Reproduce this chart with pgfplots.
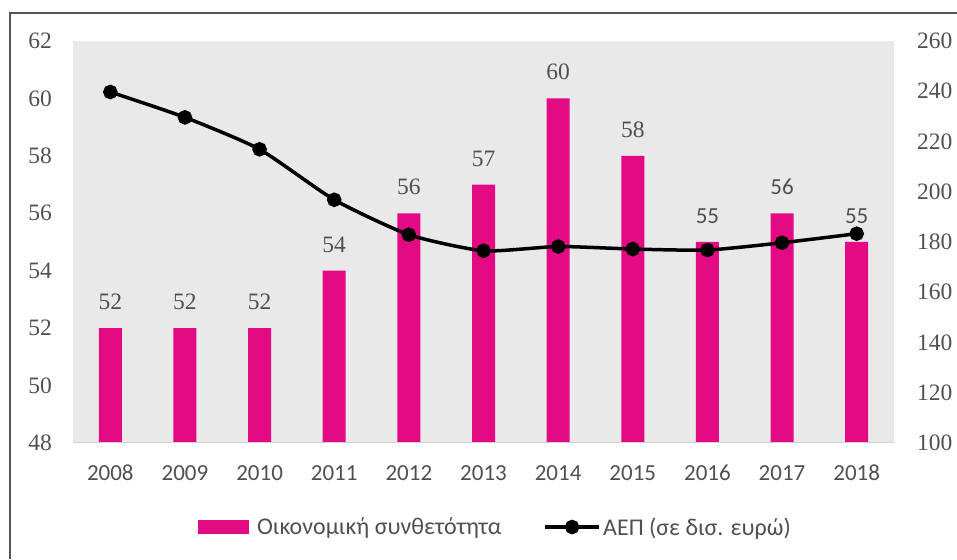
\documentclass[border=0pt]{standalone}
\usepackage{fontspec}
\setmainfont{Carlito}
\newfontfamily\serifnum{Liberation Serif}
\usepackage{pgfplots}
\pgfplotsset{compat=1.18}
\definecolor{barc}{RGB}{228,10,132}
\definecolor{bgc}{RGB}{233,233,233}
\definecolor{txt}{RGB}{80,80,80}
\definecolor{framec}{RGB}{85,85,85}
\newcommand{\bigfont}{\fontsize{23}{23}\selectfont}
\newcommand{\serffont}{\serifnum\fontsize{23.5}{23.5}\selectfont}
\begin{document}
\begin{tikzpicture}[x=1pt,y=1pt]
\path[use as bounding box] (0,0) rectangle (957,559);
\draw[framec, line width=1.6pt] (10,0) -- (10,546) -- (957,546);
\begin{axis}[
  at={(73pt,116pt)}, anchor=south west,
  scale only axis, width=821pt, height=402pt,
  xmin=-0.5, xmax=10.5, ymin=48, ymax=62,
  ytick={48,50,52,54,56,58,60,62},
  xtick={0,1,2,3,4,5,6,7,8,9,10},
  xticklabels={2008,2009,2010,2011,2012,2013,2014,2015,2016,2017,2018},
  axis line style={draw=none}, major tick length=0pt,
  axis background/.style={fill=bgc},
  /pgf/number format/assume math mode=true,
  tick label style={font=\bigfont, text=txt},
  yticklabel style={font=\serffont, anchor=east, inner sep=0pt, xshift=-21pt},
  xticklabel style={anchor=north, inner sep=0pt, yshift=-22pt},
  ybar, bar width=23pt,
  clip=false,
]
\addplot[fill=barc, draw=none, bar shift=0pt,
  nodes near coords,
  nodes near coords style={font=\serffont, text=txt, anchor=south, inner sep=0pt, yshift=18pt}]
  coordinates {(0,52) (1,52) (2,52) (3,54) (4,56) (5,57) (6,60) (7,58)};
\addplot[fill=barc, draw=none, bar shift=0pt,
  nodes near coords,
  nodes near coords style={font=\bigfont, text=txt, anchor=south, inner sep=0pt, yshift=18pt}]
  coordinates {(8,55) (9,56) (10,55)};
\draw[gray!35, line width=1pt] (rel axis cs:0,0) -- (rel axis cs:1,0);
\end{axis}
\begin{axis}[
  at={(73pt,116pt)}, anchor=south west,
  scale only axis, width=821pt, height=402pt,
  xmin=-0.5, xmax=10.5, ymin=100, ymax=260,
  ytick={100,120,140,160,180,200,220,240,260},
  axis y line*=right, axis x line=none,
  axis line style={draw=none}, major tick length=0pt,
  /pgf/number format/assume math mode=true,
  yticklabel style={font=\serffont, text=txt, anchor=west, inner sep=0pt, xshift=23pt},
  legend style={at={(0.5146,-0.209)}, anchor=center, draw=none, fill=none,
    font=\fontsize{24}{24}\selectfont, text=txt, legend columns=2,
    /tikz/every even column/.append style={column sep=40pt}},
  clip=false,
]
\addlegendimage{legend image code/.code={\fill[barc, draw=none] (0pt,-7pt) rectangle (51pt,7pt); \path[draw=none, fill=none] (0pt,0pt) rectangle (57pt,1pt);}}
\addlegendentry{Οικονομική συνθετότητα}
\addplot[black, line width=3.5pt, smooth, tension=0.35, mark=*, mark size=5.5pt,
  mark options={solid},
  legend image code/.code={\draw[black, line width=3.5pt] (0pt,0pt) -- (54pt,0pt); \fill[black] (27pt,0pt) circle (5.5pt); \path[draw=none, fill=none] (0pt,0pt) rectangle (56pt,1pt);}]
  coordinates {(0,239.7) (1,229.6) (2,216.9) (3,196.8) (4,182.9) (5,176.5) (6,178.2) (7,177.2) (8,176.8) (9,179.7) (10,183.3)};
\addlegendentry{ΑΕΠ (σε δισ. ευρώ)}
\end{axis}
\end{tikzpicture}
\end{document}
